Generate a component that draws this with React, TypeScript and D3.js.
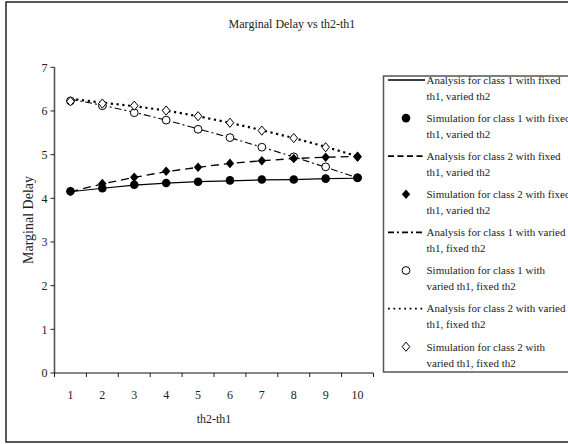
import React from "react";
import * as d3 from "d3";

const categories = [1, 2, 3, 4, 5, 6, 7, 8, 9, 10];
const yTicks = [0, 1, 2, 3, 4, 5, 6, 7];
const anaC1Fixed = [4.15, 4.23, 4.3, 4.35, 4.38, 4.4, 4.42, 4.43, 4.45, 4.46];
const simC1Fixed = [4.16, 4.23, 4.31, 4.35, 4.38, 4.41, 4.43, 4.43, 4.45, 4.47];
const anaC2Fixed = [4.15, 4.33, 4.48, 4.61, 4.71, 4.8, 4.86, 4.91, 4.94, 4.96];
const simC2Fixed = [4.16, 4.34, 4.48, 4.62, 4.71, 4.8, 4.86, 4.91, 4.94, 4.96];
const anaC1Varied = [6.27, 6.13, 5.97, 5.79, 5.59, 5.39, 5.17, 4.95, 4.71, 4.47];
const simC1Varied = [6.23, 6.12, 5.96, 5.79, 5.58, 5.39, 5.17, 4.95, 4.72, 4.47];
const anaC2Varied = [6.28, 6.19, 6.11, 6.01, 5.88, 5.73, 5.56, 5.38, 5.18, 4.96];
const simC2Varied = [6.22, 6.17, 6.12, 6.01, 5.88, 5.73, 5.55, 5.38, 5.17, 4.95];

const legendLabels = [
  ["Analysis for class 1 with fixed", "th1, varied th2"],
  ["Simulation for class 1 with fixed", "th1, varied th2"],
  ["Analysis for class 2 with fixed", "th1, varied th2"],
  ["Simulation for class 2 with fixed", "th1, varied th2"],
  ["Analysis for class 1 with varied", "th1, fixed th2"],
  ["Simulation for class 1 with", "varied th1, fixed th2"],
  ["Analysis for class 2 with varied", "th1, fixed th2"],
  ["Simulation for class 2 with", "varied th1, fixed th2"],
];

const FONT = "'Liberation Serif', 'Times New Roman', serif";

type LineStyle = { dash: string; legendDash: string; width: number; legendWidth: number };
const lineStyles: Record<string, LineStyle> = {
  solid: { dash: "", legendDash: "", width: 1.2, legendWidth: 1.4 },
  dashed: { dash: "8,5", legendDash: "6,3.5", width: 1.3, legendWidth: 1.8 },
  dashdot: { dash: "7,3,2,3", legendDash: "6,3,2,3", width: 1.1, legendWidth: 1.6 },
  dotted: { dash: "2.2,3.6", legendDash: "1.8,3.6", width: 2.2, legendWidth: 1.8 },
};

function Marker({ kind, cx, cy }: { kind: string; cx: number; cy: number }) {
  if (kind === "fcircle") return <circle cx={cx} cy={cy} r={4.3} fill="#000" />;
  if (kind === "ocircle") return <circle cx={cx} cy={cy} r={3.9} fill="#fff" stroke="#000" strokeWidth={1} />;
  const s = kind === "fdiamond" ? 4.8 : 4.6;
  const w = kind === "fdiamond" ? 4.2 : 3.8;
  const p = `M${cx},${cy - s}L${cx + w},${cy}L${cx},${cy + s}L${cx - w},${cy}Z`;
  if (kind === "fdiamond") return <path d={p} fill="#000" />;
  return <path d={p} fill="#fff" stroke="#000" strokeWidth={1} />;
}

export default function App() {
  const W = 568, H = 444;
  const x = d3.scaleBand<number>().domain(categories).range([54.5, 373.5]);
  const y = d3.scaleLinear().domain([0, 7]).range([373, 67.3]);
  const cx = (i: number) => (x(categories[i]) as number) + x.bandwidth() / 2;
  const line = d3.line<number>().x((_, i) => cx(i)).y((v) => y(v));

  const lines = [
    { data: anaC1Fixed, style: "solid" },
    { data: anaC2Fixed, style: "dashed" },
    { data: anaC1Varied, style: "dashdot" },
    { data: anaC2Varied, style: "dotted" },
  ];
  const sims = [
    { data: simC1Varied, kind: "ocircle" },
    { data: simC2Varied, kind: "odiamond" },
    { data: simC2Fixed, kind: "fdiamond" },
    { data: simC1Fixed, kind: "fcircle" },
  ];
  const legendKinds = ["solid", "fcircle", "dashed", "fdiamond", "dashdot", "ocircle", "dotted", "odiamond"];
  const legendY0 = 80;
  const legendStep = 38.1;

  const x0 = x.range()[0], x1 = x.range()[1];
  return (
    <svg width={W} height={H} style={{ position: "absolute", left: 0, top: 0 }} fontFamily={FONT}>
      <rect x={0} y={0} width={W} height={H} fill="#fff" />
      <rect x={6} y={2} width={W + 10} height={440} fill="none" stroke="#222" strokeWidth={1.5} />
      <text x={292} y={28} fontSize={12} textAnchor="middle" fill="#222">Marginal Delay vs th2-th1</text>

      {/* y axis */}
      <line x1={x0} x2={x0} y1={y(7)} y2={y(0)} stroke="#555" strokeWidth={1.6} />
      {yTicks.map((t) => (
        <g key={t}>
          <line x1={x0 - 4} x2={x0} y1={y(t)} y2={y(t)} stroke="#222" strokeWidth={1} />
          <text x={x0 - 7} y={y(t)} dy="0.35em" fontSize={12} textAnchor="end" fill="#222">{t}</text>
        </g>
      ))}
      {/* x axis */}
      <line x1={x0} x2={x1} y1={y(0)} y2={y(0)} stroke="#111" strokeWidth={1.2} />
      {[...categories.map((c) => x(c) as number), x1].map((t, i) => (
        <line key={i} x1={t} x2={t} y1={y(0)} y2={y(0) + 4} stroke="#222" strokeWidth={1} />
      ))}
      {categories.map((c, i) => (
        <text key={c} x={cx(i)} y={395} dy="0.35em" fontSize={12} textAnchor="middle" fill="#222">{c}</text>
      ))}
      <text x={(x0 + x1) / 2} y={419} dy="0.35em" fontSize={12} textAnchor="middle" fill="#222">th2-th1</text>
      <text transform={`translate(28,220) rotate(-90)`} fontSize={14} textAnchor="middle" dy="0.35em" fill="#222">Marginal Delay</text>

      {lines.map((l, k) => {
        const st = lineStyles[l.style];
        return (
          <path key={k} d={line(l.data) as string} fill="none" stroke="#000" strokeWidth={st.width}
            strokeDasharray={st.dash || undefined} />
        );
      })}
      {sims.map((s, k) => (
        <g key={k}>
          {s.data.map((v, i) => <Marker key={i} kind={s.kind} cx={cx(i)} cy={y(v)} />)}
        </g>
      ))}

      {/* legend */}
      <rect x={383.5} y={76} width={200} height={296} fill="#fff" stroke="#555" strokeWidth={1.5} />
      {legendLabels.map((lab, i) => {
        const ly = legendY0 + i * legendStep;
        const k = legendKinds[i];
        const st = lineStyles[k];
        return (
          <g key={i}>
            {st ? (
              <line x1={388} x2={425} y1={ly} y2={ly} stroke="#000" strokeWidth={st.legendWidth}
                strokeDasharray={st.legendDash || undefined} />
            ) : (
              <Marker kind={k} cx={406} cy={ly} />
            )}
            <text x={426.5} y={ly} dy="0.35em" fontSize={11} fill="#222">{lab[0]}</text>
            <text x={426.5} y={ly + 16} dy="0.35em" fontSize={11} fill="#222">{lab[1]}</text>
          </g>
        );
      })}
    </svg>
  );
}
